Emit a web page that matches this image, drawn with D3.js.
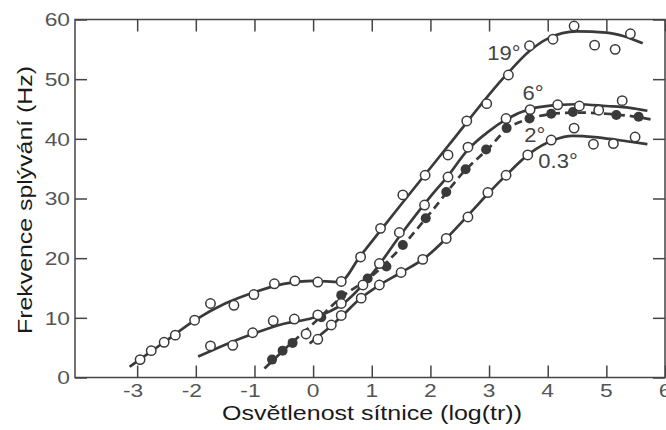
<!DOCTYPE html>
<html>
<head>
<meta charset="utf-8">
<script src="https://cdn.jsdelivr.net/npm/d3@7"></script>
<style>
  html, body { margin: 0; padding: 0; background: #fff; }
  svg { display: block; }
  text { font-family: "Liberation Sans", Arial, Helvetica, sans-serif; }
</style>
</head>
<body>
<svg id="chart" width="666" height="430"></svg>
<script>
// Flicker fusion frequency vs. retinal illuminance, for four stimulus sizes.
const xTicks = [-3, -2, -1, 0, 1, 2, 3, 4, 5, 6];
const yTicks = [0, 10, 20, 30, 40, 50, 60];

// Measured points (log illuminance, Hz)
const pts19 = [[-2.95,3.0],[-2.76,4.5],[-2.54,5.9],[-2.35,7.1],[-2.02,9.6],[-1.75,12.4],[-1.35,12.1],[-1.01,13.9],[-0.66,15.7],[-0.31,16.2],[0.08,16.0],[0.48,16.1],[0.81,20.2],[1.15,25.0],[1.53,30.6],[1.91,33.9],[2.30,37.3],[2.62,43.0],[2.96,45.9],[3.33,50.7],[3.69,55.6],[4.09,56.7],[4.45,58.9],[4.80,55.7],[5.15,55.0],[5.41,57.6]];
const pts6 = [[-1.75,5.3],[-1.37,5.4],[-1.03,7.5],[-0.68,9.5],[-0.32,9.8],[0.08,10.5],[0.48,12.4],[0.85,15.5],[1.13,19.1],[1.47,24.3],[1.90,28.9],[2.30,33.6],[2.64,38.6],[3.29,43.4],[3.70,44.9],[4.17,45.7],[4.54,45.5],[4.87,44.8],[5.27,46.4]];
const pts2 = [[-0.70,3.0],[-0.52,4.5],[-0.35,5.8],[0.14,10.1],[0.48,13.8],[0.93,16.6],[1.25,18.6],[1.53,22.2],[1.92,26.7],[2.27,31.1],[2.60,34.9],[2.95,38.2],[3.30,41.8],[3.69,43.4],[4.06,44.2],[4.43,44.5],[5.17,44.0],[5.55,43.7]];
const pts03 = [[-0.12,7.3],[0.08,6.4],[0.31,8.8],[0.48,10.4],[0.82,13.3],[1.13,15.5],[1.50,17.6],[1.87,19.8],[2.27,23.3],[2.64,26.9],[2.98,31.0],[3.29,33.9],[3.66,37.3],[4.06,39.8],[4.45,41.8],[4.78,39.1],[5.12,39.2],[5.49,40.3]];

// Fitted curves
const fit19 = [[-3.13,1.8],[-2.5,6.2],[-2,9.7],[-1.5,12.4],[-1,14.3],[-0.5,15.7],[0,16.2],[0.45,16.0],[0.8,20.3],[1.5,29.0],[2.3,38.8],[3.3,50.8],[3.7,54.8],[4.0,56.8],[4.5,58.0],[5.0,57.8],[5.3,57.2],[5.62,56.0]];
const fit6 = [[-1.96,3.5],[-1.5,5.5],[-1,7.4],[-0.5,9.0],[0,10.0],[0.5,12.3],[1.0,17.3],[1.5,24.0],[2.0,30.3],[2.3,33.8],[2.64,38.2],[3.0,41.3],[3.3,43.3],[3.7,45.0],[4.2,45.7],[4.5,45.8],[5.0,45.5],[5.4,45.2],[5.7,44.7]];
const fit2 = [[-0.83,1.5],[-0.5,4.6],[0,9.0],[0.5,13.6],[1.0,17.0],[1.5,21.8],[2.0,27.6],[2.6,34.8],[3.0,38.5],[3.3,41.6],[3.7,43.4],[4.1,44.2],[4.5,44.4],[5.0,44.2],[5.5,43.7],[5.79,43.2]];
const fit03 = [[-0.06,5.7],[0.3,8.6],[0.5,10.4],[0.8,13.2],[1.1,15.3],[1.5,17.6],[1.9,20.0],[2.3,23.6],[2.7,27.8],[3.0,31.0],[3.3,34.0],[3.7,37.6],[4.1,39.8],[4.43,40.5],[4.8,40.3],[5.2,39.8],[5.7,39.1]];

const labels = [
  {text: "19°", x: 2.97, y: 53.2},
  {text: "6°",  x: 3.57, y: 46.5},
  {text: "2°",  x: 3.60, y: 39.5},
  {text: "0.3°", x: 3.84, y: 35.1}
];

const svg = d3.select("#chart");
const L = 75, R = 665, T = 19.5, B = 377.5;
const x = d3.scaleLinear().domain([-4.06, 6]).range([L, R]);
const y = d3.scaleLinear().domain([0, 60]).range([B, T]);

const ink = "#3a3a3a";
const tickLen = 12;

// Frame
svg.append("rect").attr("x", L).attr("y", T).attr("width", R - L).attr("height", B - T)
  .attr("fill", "none").attr("stroke", "#444").attr("stroke-width", 1.5);

// Inward ticks on all four sides
const axB = d3.axisBottom(x).tickValues(xTicks).tickSize(-tickLen).tickFormat("");
const axT = d3.axisTop(x).tickValues(xTicks).tickSize(-tickLen).tickFormat("");
const axL = d3.axisLeft(y).tickValues(yTicks).tickSize(-tickLen).tickFormat("");
const axR = d3.axisRight(y).tickValues(yTicks).tickSize(-tickLen).tickFormat("");
[[axB, `translate(0,${B})`], [axT, `translate(0,${T})`], [axL, `translate(${L},0)`], [axR, `translate(${R},0)`]]
  .forEach(([ax, tr]) => {
    const g = svg.append("g").attr("transform", tr).call(ax);
    g.select(".domain").remove();
    g.selectAll(".tick line").attr("stroke", "#444").attr("stroke-width", 1.5);
  });

// Tick labels (slightly wide lettering); negative numbers keep the digit over the tick
svg.append("g").selectAll("text").data(xTicks).join("text")
  .attr("transform", d => `translate(${x(d) - (d < 0 ? 4 : 0)},397) scale(1.2,1)`)
  .attr("text-anchor", "middle").attr("font-size", 19).attr("fill", "#555")
  .text(d => String(d));
svg.append("g").selectAll("text").data(yTicks).join("text")
  .attr("transform", d => `translate(70,${y(d)}) scale(1.2,1)`).attr("dy", "0.36em")
  .attr("text-anchor", "end").attr("font-size", 19).attr("fill", "#555")
  .text(d => d);

// Axis titles
svg.append("text").attr("x", 372).attr("y", 420).attr("text-anchor", "middle")
  .attr("font-size", 21).attr("fill", "#1a1a1a")
  .attr("textLength", 300).attr("lengthAdjust", "spacingAndGlyphs")
  .text("Osvětlenost sítnice (log(tr))");
svg.append("text").attr("transform", "translate(32,200) rotate(-90)")
  .attr("text-anchor", "middle").attr("font-size", 21).attr("fill", "#1a1a1a")
  .attr("textLength", 268).attr("lengthAdjust", "spacingAndGlyphs")
  .text("Frekvence splývání (Hz)");

const line = d3.line().x(d => x(d[0])).y(d => y(d[1])).curve(d3.curveMonotoneX);

// Curves
[fit19, fit6, fit03].forEach(f => {
  svg.append("path").datum(f).attr("d", line)
    .attr("fill", "none").attr("stroke", ink).attr("stroke-width", 2.7);
});
svg.append("path").datum(fit2).attr("d", line)
  .attr("fill", "none").attr("stroke", ink).attr("stroke-width", 2.7)
  .attr("stroke-dasharray", "8,5");

// Points
function openPts(data) {
  svg.append("g").selectAll("circle").data(data).join("circle")
    .attr("cx", d => x(d[0])).attr("cy", d => y(d[1])).attr("r", 4.7)
    .attr("fill", "#fff").attr("stroke", ink).attr("stroke-width", 1.5);
}
openPts(pts19);
openPts(pts03);
svg.append("g").selectAll("circle").data(pts2).join("circle")
  .attr("cx", d => x(d[0])).attr("cy", d => y(d[1])).attr("r", 5)
  .attr("fill", ink);
openPts(pts6);

// Curve labels
svg.append("g").selectAll("text").data(labels).join("text")
  .attr("transform", d => `translate(${x(d.x)},${y(d.y)}) scale(1.1,1)`)
  .attr("font-size", 20).attr("fill", "#444")
  .text(d => d.text);
</script>
</body>
</html>
